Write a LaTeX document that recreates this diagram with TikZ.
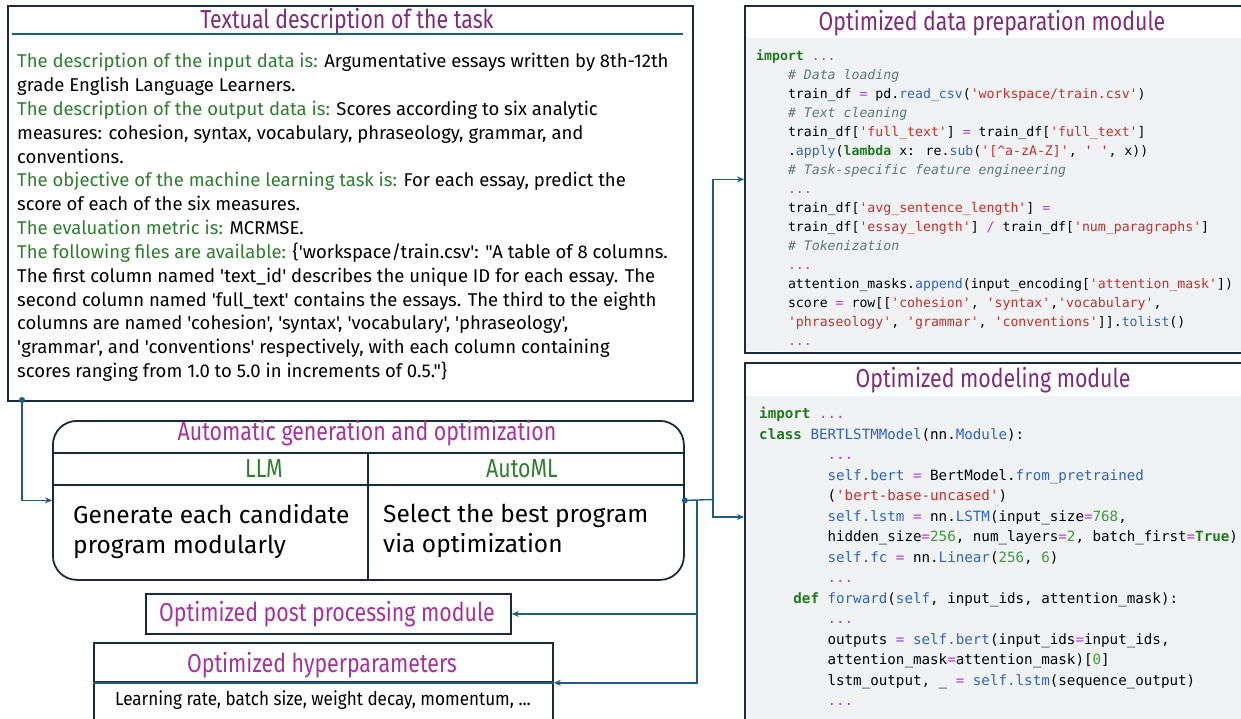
\documentclass[tikz,border=0pt]{standalone}
\usepackage{fontspec}
\usetikzlibrary{arrows.meta,calc,positioning}
\newfontfamily\bodyfont{Fira Sans}
\newfontfamily\titlefont{Fira Sans}[FakeStretch=0.82]
\newfontfamily\smallfont{Fira Sans}[FakeStretch=0.9]
\newfontfamily\codefont{DejaVu Sans Mono}
\definecolor{boxline}{HTML}{1C2B3B}
\definecolor{conncol}{HTML}{1D5E80}
\definecolor{titlepurple}{HTML}{7E2B7A}
\definecolor{titlemag}{HTML}{A5329D}
\definecolor{labgreen}{HTML}{2F7D2F}
\definecolor{codebg}{HTML}{F1F2F4}
\definecolor{codegreen}{HTML}{1E7A1E}
\definecolor{codeblue}{HTML}{2E64C0}
\definecolor{codered}{HTML}{C0312B}
\definecolor{codecm}{HTML}{5E7A7A}
\definecolor{codeop}{HTML}{B03CD8}
\definecolor{codenumc}{HTML}{3B9B3B}
\newcommand\codekw[1]{\textcolor{codegreen}{\bfseries #1}}
\newcommand\codefn[1]{\textcolor{codeblue}{#1}}
\newcommand\codestr[1]{\textcolor{codered}{#1}}
\newcommand\codecm[1]{\textcolor{codecm}{\itshape #1}}
\newcommand\codeop[1]{\textcolor{codeop}{#1}}
\newcommand\codenum[1]{\textcolor{codenumc}{#1}}
\newcommand\codedots{\textcolor{codeop}{...}}
\newcommand\ind[1]{\hspace*{#1\fontcharwd\font`\0}}
\newcommand\lab[1]{\textcolor{labgreen}{#1}}
\begin{document}
\begin{tikzpicture}[x=1pt, y=-1pt,
  panel/.style={draw=boxline, line width=1.8pt, fill=white, rectangle, anchor=north west, inner sep=0pt},
  titletext/.style={font=\titlefont\fontsize{26}{28}\selectfont, inner sep=0pt},
  conn/.style={draw=conncol, line width=1.4pt},
  arr/.style={conn, -{Stealth[length=7pt, width=6pt]}},
  dot/.style={circle, fill=conncol, inner sep=0pt, minimum size=6pt}]
\useasboundingbox (0,0) rectangle (1241,719);

% textual description of the task
\node[panel, minimum width=685pt, minimum height=395pt] (desc) at (7,5) {};
\node[titletext, text=titlepurple] (desctitle) at (347,21) {Textual description of the task};
\draw[conncol, line width=1.6pt] (12,34) -- (683,34);
\node[anchor=north west, inner sep=0pt, align=left, font=\bodyfont\fontsize{18.5}{23.85}\selectfont] (desctext) at (17,53) {%
\lab{The description of the input data is:} Argumentative essays written by 8th-12th\\
grade English Language Learners.\\
\lab{The description of the output data is:} Scores according to six analytic\\
measures: cohesion, syntax, vocabulary, phraseology, grammar, and\\
conventions.\\
\lab{The objective of the machine learning task is:} For each essay, predict the\\
score of each of the six measures.\\
\lab{The evaluation metric is:} MCRMSE.\\
\lab{The following files are available:} \{'workspace/train.csv': "A table of 8 columns.\\
The first column named 'text\_id' describes the unique ID for each essay. The\\
second column named 'full\_text' contains the essays. The third to the eighth\\
columns are named 'cohesion', 'syntax', 'vocabulary', 'phraseology',\\
'grammar', and 'conventions' respectively, with each column containing\\
scores ranging from 1.0 to 5.0 in increments of 0.5."\}};

% automatic generation and optimization
\node[panel, rounded corners=24pt, minimum width=631pt, minimum height=159pt] (auto) at (52,420) {};
\draw[boxline, line width=1.8pt] (52,453) -- (683,453);
\draw[boxline, line width=1.8pt] (52,485) -- (683,485);
\draw[boxline, line width=1.8pt] (368,453) -- (368,579);
\node[titletext, text=titlemag] (autotitle) at (367,433) {Automatic generation and optimization};
\node[titletext, text=labgreen] (llm) at (264,469) {LLM};
\node[titletext, text=labgreen] (automl) at (522,469) {AutoML};
\node[anchor=north west, inner sep=0pt, align=left, font=\bodyfont\fontsize{24.5}{30}\selectfont] (gen) at (73,504) {Generate each candidate\\program modularly};
\node[anchor=north west, inner sep=0pt, align=left, font=\bodyfont\fontsize{24.5}{30}\selectfont] (sel) at (383,504) {Select the best program\\via optimization};

% post processing and hyperparameters
\node[panel, minimum width=365pt, minimum height=40pt] (post) at (145,593) {};
\node[titletext, text=titlemag] (posttitle) at (327,614) {Optimized post processing module};
\node[panel, minimum width=459pt, minimum height=39pt] (hyptitle) at (93,642) {};
\node[panel, minimum width=459pt, minimum height=45pt] (hypbody) at (93,681) {};
\draw[conncol, line width=1.6pt] (hyptitle.south west) -- (hyptitle.south east);
\node[titletext, text=titlemag] at (322,665) {Optimized hyperparameters};
\node[font=\smallfont\fontsize{19}{21}\selectfont, inner sep=0pt] (hyptext) at (323,700) {Learning rate, batch size, weight decay, momentum, ...};

% optimized data preparation module
\node[panel, minimum width=510pt, minimum height=347pt] (prep) at (744,5) {};
\fill[codebg] (746,38) rectangle (1256,351);
\node[titletext, text=titlepurple] (preptitle) at (992,23) {Optimized data preparation module};
\node[anchor=north west, inner sep=0pt, align=left, font=\codefont\fontsize{13.2}{19}\selectfont] (prepcode) at (756,50) {%
\codekw{import} \codedots\\
\ind{4}\codecm{\# Data loading}\\
\ind{4}train\_df \codeop{=} pd.\codefn{read\_csv}(\codestr{'workspace/train.csv'})\\
\ind{4}\codecm{\# Text cleaning}\\
\ind{4}train\_df[\codestr{'full\_text'}] \codeop{=} train\_df[\codestr{'full\_text'}]\\
\ind{4}.\codefn{apply}(\codekw{lambda} x: re.\codefn{sub}(\codestr{'[\textasciicircum a-zA-Z]'}, \codestr{'\ind{1}'}, x))\\
\ind{4}\codecm{\# Task-specific feature engineering}\\
\ind{4}\codedots\\
\ind{4}train\_df[\codestr{'avg\_sentence\_length'}] \codeop{=}\\
\ind{4}train\_df[\codestr{'essay\_length'}] \codeop{/} train\_df[\codestr{'num\_paragraphs'}]\\
\ind{4}\codecm{\# Tokenization}\\
\ind{4}\codedots\\
\ind{4}attention\_masks.\codefn{append}(input\_encoding[\codestr{'attention\_mask'}])\\
\ind{4}score \codeop{=} row[[\codestr{'cohesion'}, \codestr{'syntax'},\codestr{'vocabulary'},\\
\ind{4}\codestr{'phraseology'}, \codestr{'grammar'}, \codestr{'conventions'}]].\codefn{tolist}()\\
\ind{4}\codedots};

% optimized modeling module
\node[panel, minimum width=510pt, minimum height=365pt] (model) at (744,362) {};
\fill[codebg] (746,396) rectangle (1256,726);
\node[titletext, text=titlepurple] (modeltitle) at (993,380) {Optimized modeling module};
\node[anchor=north west, inner sep=0pt, align=left, font=\codefont\fontsize{14.2}{20.5}\selectfont] (modelcode) at (759,407) {%
\codekw{import} \codedots\\
\codekw{class} \codefn{BERTLSTMModel}(nn.\codefn{Module}):\\
\ind{8}\codedots\\
\ind{8}\codefn{self.bert} \codeop{=} BertModel.\codefn{from\_pretrained}\\
\ind{8}(\codestr{'bert-base-uncased'})\\
\ind{8}\codefn{self.lstm} \codeop{=} nn.\codefn{LSTM}(input\_size\codeop{=}\codenum{768},\\
\ind{8}hidden\_size\codeop{=}\codenum{256}, num\_layers\codeop{=}\codenum{2}, batch\_first\codeop{=}\codekw{True})\\
\ind{8}\codefn{self.fc} \codeop{=} nn.\codefn{Linear}(\codenum{256}, \codenum{6})\\
\ind{8}\codedots\\
\ind{4}\codekw{def} \codefn{forward}(\codefn{self}, input\_ids, attention\_mask):\\
\ind{8}\codedots\\
\ind{8}outputs \codeop{=} \codefn{self.bert}(input\_ids\codeop{=}input\_ids,\\
\ind{8}attention\_mask\codeop{=}attention\_mask)[\codenum{0}]\\
\ind{8}lstm\_output, \_ \codeop{=} \codefn{self.lstm}(sequence\_output)\\
\ind{8}\codedots};

% connectors
\coordinate (descdot) at (22,400);
\coordinate (split) at (713,499.5);
\coordinate (down) at (697,499.5);
\coordinate (modelin) at (744,517);
\draw[arr] (descdot) |- (auto.west);
\draw[conn] (auto.east) -- (split);
\draw[arr] (split) |- (prep.west);
\draw[arr] (split) |- (modelin);
\draw[arr] (down) |- (post.east);
\draw[arr] (down) |- (hyptitle.south east);
\node[dot] at (descdot) {};
\node[dot] at (auto.east) {};
\end{tikzpicture}
\end{document}
